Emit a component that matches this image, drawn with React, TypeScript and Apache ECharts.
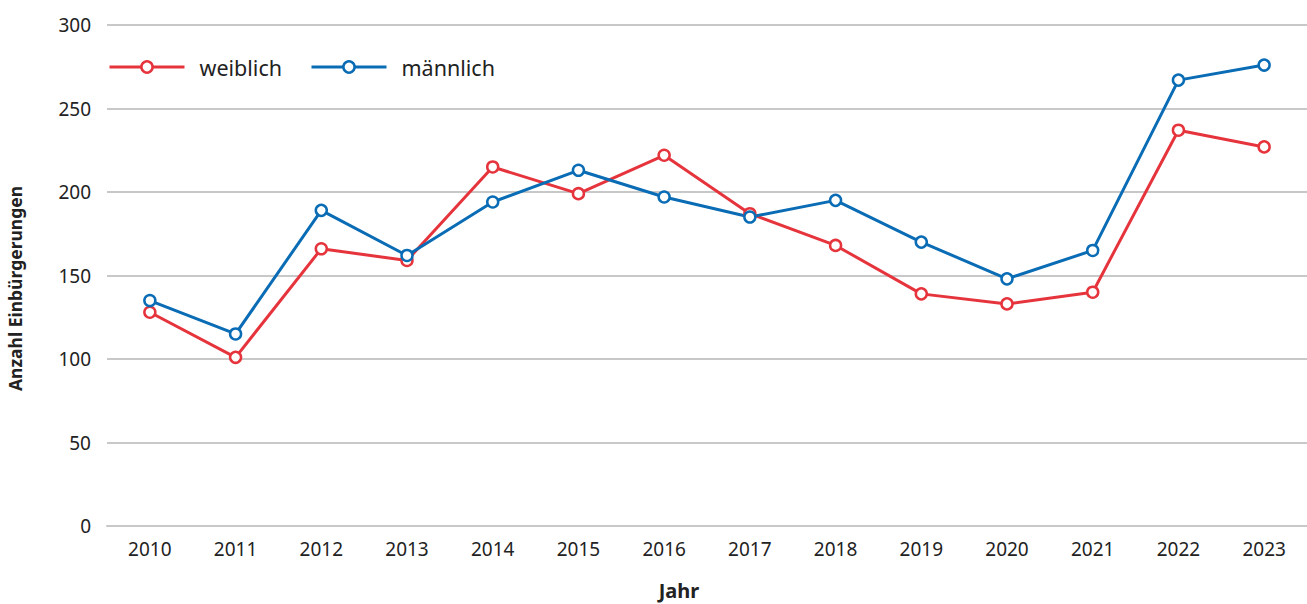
import React, { useEffect, useRef } from "react";
import * as echarts from "echarts";

const years = ["2010", "2011", "2012", "2013", "2014", "2015", "2016", "2017", "2018", "2019", "2020", "2021", "2022", "2023"];
const weiblich = [128, 101, 166, 159, 215, 199, 222, 187, 168, 139, 133, 140, 237, 227];
const maennlich = [135, 115, 189, 162, 194, 213, 197, 185, 195, 170, 148, 165, 267, 276];

const RED = "#e6343d";
const BLUE = "#0a6cb5";
const FONT = "'Noto Sans', sans-serif";

export default function App() {
  const ref = useRef<HTMLDivElement>(null);
  useEffect(() => {
    if (!ref.current) return;
    const chart = echarts.init(ref.current, undefined, { renderer: "svg" });
    const mk = (name: string, data: number[], color: string) => ({
      name,
      type: "line",
      data,
      symbol: "circle",
      symbolSize: 11,
      showSymbol: true,
      lineStyle: { color, width: 3 },
      itemStyle: { color: "#ffffff", borderColor: color, borderWidth: 2.5 },
      emphasis: { disabled: true },
    });
    chart.setOption({
      animation: false,
      textStyle: { fontFamily: FONT },
      grid: { left: 107, right: 0, top: 25, bottom: 78, containLabel: false, outerBoundsMode: "none" },
      legend: {
        left: 108,
        top: 56,
        padding: 0,
        itemWidth: 75,
        itemHeight: 14,
        itemGap: 28,
        textStyle: { fontFamily: FONT, fontSize: 21.5, color: "#222", padding: [0, 0, 0, 10] },
        data: [
          { name: "weiblich", itemStyle: { color: "#fff", borderColor: RED, borderWidth: 2.5 }, lineStyle: { color: RED, width: 3 } },
          { name: "männlich", itemStyle: { color: "#fff", borderColor: BLUE, borderWidth: 2.5 }, lineStyle: { color: BLUE, width: 3 } },
        ],
      },
      xAxis: {
        type: "category",
        data: years,
        boundaryGap: true,
        name: "Jahr",
        nameLocation: "middle",
        nameGap: 54,
        nameTextStyle: { fontFamily: FONT, fontSize: 20, fontWeight: "bold", color: "#222", padding: [0, 56, 0, 0] },
        axisLine: { lineStyle: { color: "#c8c8c8", width: 2 } },
        axisTick: { alignWithLabel: true, length: 7, lineStyle: { color: "#bbbbbb", width: 1.5 } },
        axisLabel: { fontFamily: FONT, fontSize: 19, color: "#222", margin: 13 },
      },
      yAxis: {
        type: "value",
        min: 0,
        max: 300,
        interval: 50,
        name: "Anzahl Einbürgerungen",
        nameLocation: "middle",
        nameGap: 83,
        nameTextStyle: { fontFamily: FONT, fontSize: 17.5, fontWeight: "bold", color: "#222", padding: [0, 26, 0, 0] },
        axisLine: { show: false },
        axisTick: { show: false },
        axisLabel: { fontFamily: FONT, fontSize: 19, color: "#222", margin: 16 },
        splitLine: { lineStyle: { color: "#c8c8c8", width: 2 } },
      },
      series: [mk("weiblich", weiblich, RED), mk("männlich", maennlich, BLUE)],
    });
    return () => chart.dispose();
  }, []);
  return <div ref={ref} style={{ position: "fixed", left: 0, top: 0, width: 1307, height: 604, background: "#fff" }} />;
}
